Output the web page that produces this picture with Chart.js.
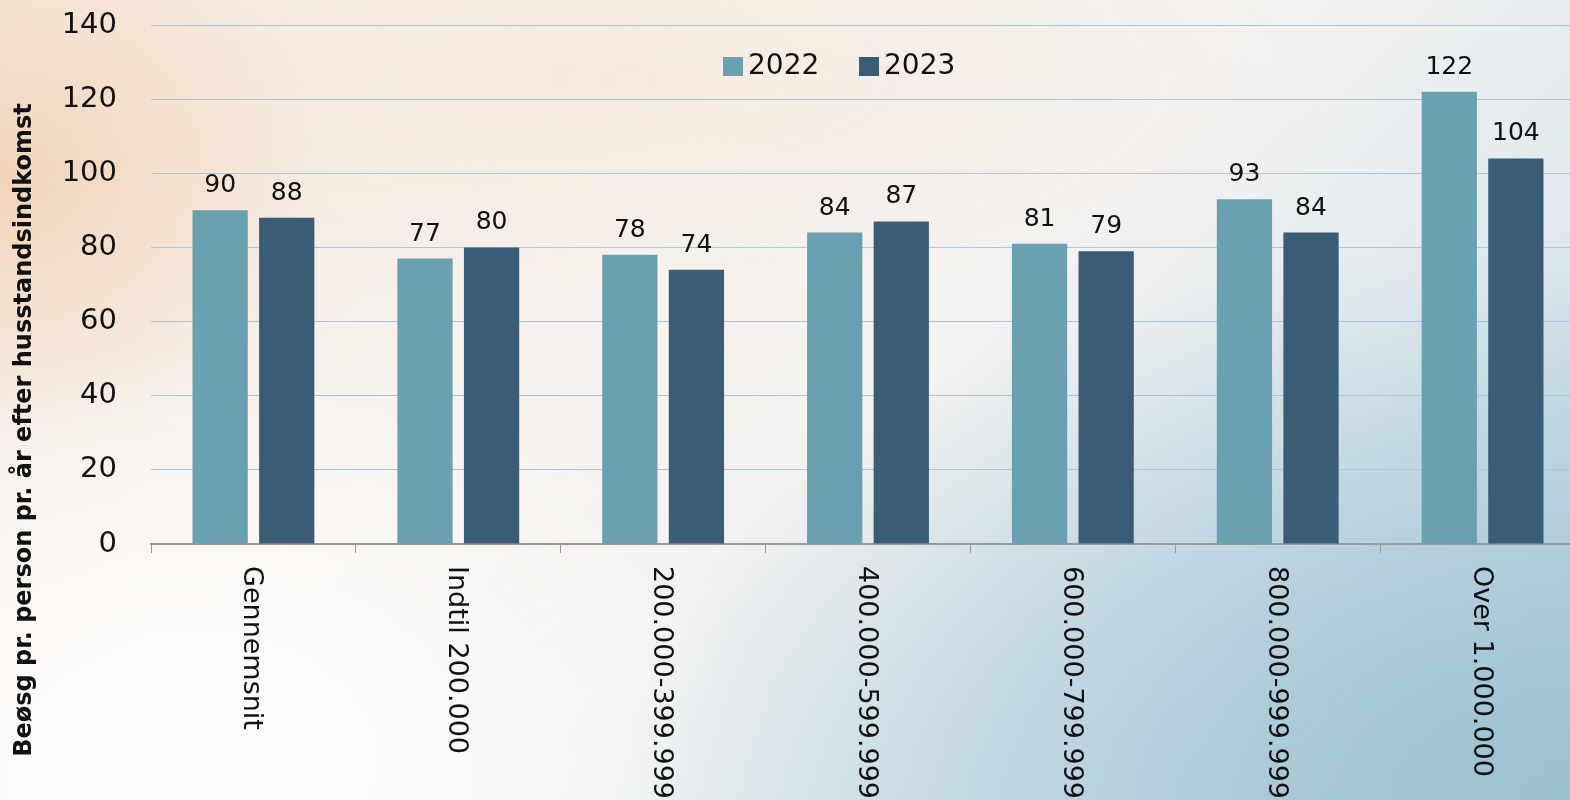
<!DOCTYPE html>
<html>
<head>
<meta charset="utf-8">
<script src="https://cdn.jsdelivr.net/npm/chart.js@4.4.1/dist/chart.umd.min.js"></script>
<style>
  html, body { margin:0; padding:0; width:1570px; height:800px; overflow:hidden; }
  body {
    background:
      radial-gradient(ellipse 330px 260px at 0% 22%, rgba(242,208,178,0.85), rgba(242,208,178,0) 100%),
      radial-gradient(ellipse 700px 230px at 40% 10%, rgba(246,230,214,0.55), rgba(246,230,214,0) 100%),
      radial-gradient(ellipse 950px 560px at 100% 100%, rgba(155,193,210,1), rgba(168,201,215,0.75) 45%, rgba(190,214,225,0) 100%),
      radial-gradient(ellipse 600px 420px at 12% 95%, rgba(255,255,255,0.95), rgba(255,255,255,0) 100%),
      linear-gradient(135deg, #f5eadf 0%, #f7f2ed 35%, #f3f2f1 55%, #e0e9ee 75%, #b9d2dd 100%);
  }
  #wrap { position:absolute; left:0; top:0; width:1585px; height:800px; }
</style>
</head>
<body>
<div id="wrap"><canvas id="c" width="1585" height="800"></canvas></div>
<script>
const categories = ["Gennemsnit", "Indtil 200.000", "200.000-399.999", "400.000-599.999", "600.000-799.999", "800.000-999.999", "Over 1.000.000"];
const series2022 = [90, 77, 78, 84, 81, 93, 122];
const series2023 = [88, 80, 74, 87, 79, 84, 104];
const seriesNames = ["2022", "2023"];
const seriesColors = ["#6aa1b0", "#3a5d75"];
const yTitle = "Beøsg pr. person pr. år efter husstandsindkomst";

const FONT = "'DejaVu Sans', sans-serif";

const customDraw = {
  id: 'customDraw',
  afterDatasetsDraw(chart) {
    const ctx = chart.ctx;
    const ca = chart.chartArea;
    ctx.save();
    // data labels
    ctx.fillStyle = '#111';
    ctx.font = "25px " + FONT;
    ctx.textAlign = 'center';
    ctx.textBaseline = 'alphabetic';
    chart.data.datasets.forEach((ds, i) => {
      const meta = chart.getDatasetMeta(i);
      meta.data.forEach((bar, j) => {
        ctx.fillText(String(ds.data[j]), bar.x, bar.y - 18);
      });
    });
    // x labels rotated clockwise
    const xs = chart.scales.x;
    ctx.font = "27px " + FONT;
    ctx.textAlign = 'left';
    ctx.textBaseline = 'middle';
    categories.forEach((lab, i) => {
      const x = xs.getPixelForValue(i);
      ctx.save();
      ctx.translate(x - 2, ca.bottom + 22);
      ctx.rotate(Math.PI / 2);
      ctx.fillText(lab, 0, 0);
      ctx.restore();
    });
    // y title
    ctx.save();
    ctx.font = "bold 24px " + FONT;
    ctx.textAlign = 'center';
    ctx.textBaseline = 'middle';
    ctx.translate(25, 430);
    ctx.rotate(-Math.PI / 2);
    ctx.fillText(yTitle, 0, 0);
    ctx.restore();
    // legend
    ctx.font = "28px " + FONT;
    ctx.textAlign = 'left';
    ctx.textBaseline = 'middle';
    const ly = ca.top + 41;
    let lx = 723;
    seriesNames.forEach((n, i) => {
      ctx.fillStyle = seriesColors[i];
      ctx.fillRect(lx, ly - 9, 20, 19);
      ctx.fillStyle = '#111';
      ctx.fillText(n, lx + 25, ly + 1);
      lx += 136;
    });
    ctx.restore();
  }
};

new Chart(document.getElementById('c'), {
  type: 'bar',
  data: {
    labels: categories,
    datasets: [
      { label: seriesNames[0], data: series2022, backgroundColor: seriesColors[0], categoryPercentage: 0.65, barPercentage: 0.83 },
      { label: seriesNames[1], data: series2023, backgroundColor: seriesColors[1], categoryPercentage: 0.65, barPercentage: 0.83 }
    ]
  },
  options: {
    responsive: false,
    animation: false,
    layout: { autoPadding: false, padding: { top: 25, left: 0, right: 0, bottom: 0 } },
    plugins: { legend: { display: false }, tooltip: { enabled: false } },
    scales: {
      x: {
        grid: { display: true, drawOnChartArea: false, drawTicks: true, tickLength: 9, color: '#999', offset: true },
        border: { display: true, color: '#999', width: 2 },
        ticks: { callback: () => '', color: 'rgba(0,0,0,0)', maxRotation: 0, minRotation: 0 },
        afterFit(s) { s.height = 256; }
      },
      y: {
        min: 0, max: 140,
        ticks: { stepSize: 20, font: { family: FONT, size: 29 }, color: '#111', padding: 34 },
        grid: { color: '#a9c6dc', lineWidth: 1, drawTicks: false },
        border: { display: false },
        afterFit(s) { s.width = 151; s.paddingTop = 0; s.paddingBottom = 0; }
      }
    }
  },
  plugins: [customDraw]
});
</script>
</body>
</html>
